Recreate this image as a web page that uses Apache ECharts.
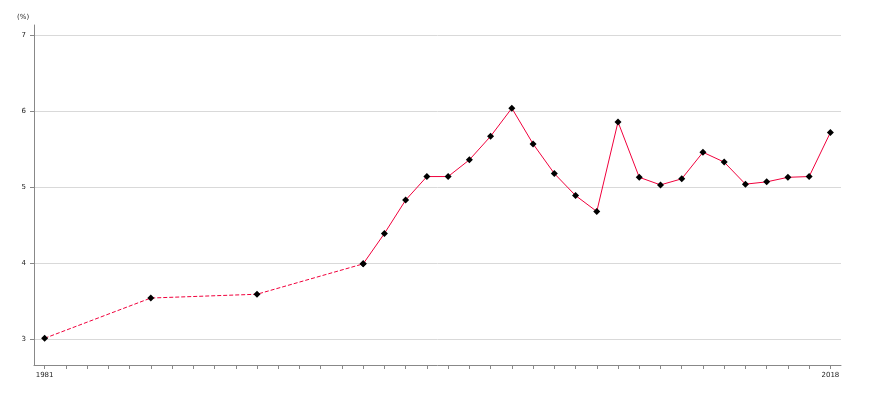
<!DOCTYPE html>
<html><head><meta charset="utf-8">
<script src="https://cdn.jsdelivr.net/npm/echarts@6/dist/echarts.min.js"></script>
<style>html,body{margin:0;padding:0;background:#fff}#c{width:870px;height:400px}</style>
</head><body><div id="c"></div>
<script>
const years = [];
for (let y = 1981; y <= 2018; y++) years.push(String(y));
const dashedYears = ['1981','1986','1991','1996'];
const dashedValues = [3.01, 3.54, 3.59, 3.99];
const solidYears = ['1996','1997','1998','1999','2000','2001','2002','2003','2004','2005','2006','2007','2008','2009','2010','2011','2012','2013','2014','2015','2016','2017','2018'];
const solidValues = [3.99, 4.39, 4.83, 5.14, 5.14, 5.36, 5.67, 6.04, 5.57, 5.18, 4.89, 4.68, 5.86, 5.13, 5.03, 5.11, 5.46, 5.33, 5.04, 5.07, 5.13, 5.14, 5.72];
const yTicks = [3, 4, 5, 6, 7];
const xLabels = ['1981', '2018'];

function toSeries(ys, vs) {
  return years.map(y => { const i = ys.indexOf(y); return i >= 0 ? vs[i] : null; });
}
const lineColor = '#f0003c';
const font = 'DejaVu Sans, Verdana, sans-serif';
const textColor = '#222';
const chart = echarts.init(document.getElementById('c'), null, {renderer: 'canvas'});
chart.setOption({
  animation: false,
  grid: {left: 34, right: 29, top: 25, bottom: 35, containLabel: false},
  graphic: [{type: 'text', left: 17, top: 14, style: {text: '(%)', fontSize: 7, fontFamily: font, fill: textColor}}],
  xAxis: {
    type: 'category', data: years, boundaryGap: true,
    axisLine: {show: true, lineStyle: {color: '#888', width: 1}},
    axisTick: {show: true, inside: false, alignWithLabel: true, interval: 0, length: 4, lineStyle: {color: '#888', width: 1}},
    axisLabel: {interval: (i, v) => xLabels.indexOf(v) >= 0, fontSize: 7, fontFamily: font, color: textColor, margin: 7},
    splitLine: {show: false}
  },
  yAxis: {
    type: 'value', min: 2.658, max: 7.136,
    axisLine: {show: true, lineStyle: {color: '#888', width: 1}},
    axisTick: {show: true, inside: false, length: 4, customValues: yTicks, lineStyle: {color: '#888', width: 1}},
    axisLabel: {customValues: yTicks, fontSize: 7, fontFamily: font, color: textColor, margin: 8},
    splitLine: {show: true, showMinLine: true, showMaxLine: true, lineStyle: {color: '#d9d9d9', width: 1}}
  },
  series: [
    {type: 'line', data: toSeries(dashedYears, dashedValues), connectNulls: true,
     lineStyle: {color: lineColor, width: 1, type: [4, 2]},
     symbol: 'diamond', symbolSize: 7, itemStyle: {color: '#000'}, z: 2},
    {type: 'line', data: toSeries(solidYears, solidValues), connectNulls: false,
     lineStyle: {color: lineColor, width: 1},
     symbol: 'diamond', symbolSize: 7, itemStyle: {color: '#000'}, z: 3}
  ]
});
</script></body></html>
